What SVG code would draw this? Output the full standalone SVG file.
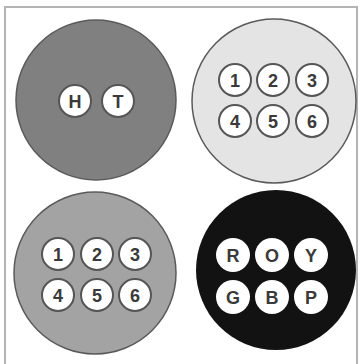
<svg xmlns="http://www.w3.org/2000/svg" width="364" height="364" viewBox="0 0 364 364">
<style>
.big{stroke:#5a5a5a;stroke-width:1.5}
.dot{fill:#fff;stroke:#555;stroke-width:2}
.dotw{fill:#fff}
.t{font-family:"Liberation Sans",Arial,sans-serif;font-weight:bold;font-size:18px;fill:#3a3a3a;text-anchor:middle;dominant-baseline:central}
</style>
<rect x="0" y="0" width="364" height="364" fill="#fff"/>
<rect x="5" y="7" width="352" height="362" fill="none" stroke="#b4b4b4" stroke-width="2"/>
<g id="group-ht">
<circle class="big" cx="96" cy="100" r="80" fill="#808080"/>
<circle class="dot" cx="75" cy="101" r="16"/><text class="t" x="75" y="102">H</text>
<circle class="dot" cx="118" cy="101" r="16"/><text class="t" x="118" y="102">T</text>
</g>
<g id="group-light">
<circle class="big" cx="274" cy="101" r="82" fill="#e4e4e4"/>
<circle class="dot" cx="235" cy="80" r="16"/><text class="t" x="235" y="81">1</text>
<circle class="dot" cx="273" cy="80" r="16"/><text class="t" x="273" y="81">2</text>
<circle class="dot" cx="312" cy="80" r="16"/><text class="t" x="312" y="81">3</text>
<circle class="dot" cx="235" cy="121" r="16"/><text class="t" x="235" y="122">4</text>
<circle class="dot" cx="273" cy="121" r="16"/><text class="t" x="273" y="122">5</text>
<circle class="dot" cx="312" cy="121" r="16"/><text class="t" x="312" y="122">6</text>
</g>
<g id="group-mid">
<circle class="big" cx="95" cy="273" r="81" fill="#a3a3a3"/>
<circle class="dot" cx="58" cy="254" r="16"/><text class="t" x="58" y="255">1</text>
<circle class="dot" cx="97" cy="254" r="16"/><text class="t" x="97" y="255">2</text>
<circle class="dot" cx="135" cy="254" r="16"/><text class="t" x="135" y="255">3</text>
<circle class="dot" cx="58" cy="295" r="16"/><text class="t" x="58" y="296">4</text>
<circle class="dot" cx="97" cy="295" r="16"/><text class="t" x="97" y="296">5</text>
<circle class="dot" cx="135" cy="295" r="16"/><text class="t" x="135" y="296">6</text>
</g>
<g id="group-dark">
<circle cx="276" cy="270" r="80" fill="#121212"/>
<circle class="dotw" cx="233" cy="255" r="17"/><text class="t" x="233" y="256">R</text>
<circle class="dotw" cx="272" cy="255" r="17"/><text class="t" x="272" y="256">O</text>
<circle class="dotw" cx="311" cy="255" r="17"/><text class="t" x="311" y="256">Y</text>
<circle class="dotw" cx="233" cy="297" r="17"/><text class="t" x="233" y="298">G</text>
<circle class="dotw" cx="272" cy="297" r="17"/><text class="t" x="272" y="298">B</text>
<circle class="dotw" cx="311" cy="297" r="17"/><text class="t" x="311" y="298">P</text>
</g>
<g id="connectors"></g>
</svg>
